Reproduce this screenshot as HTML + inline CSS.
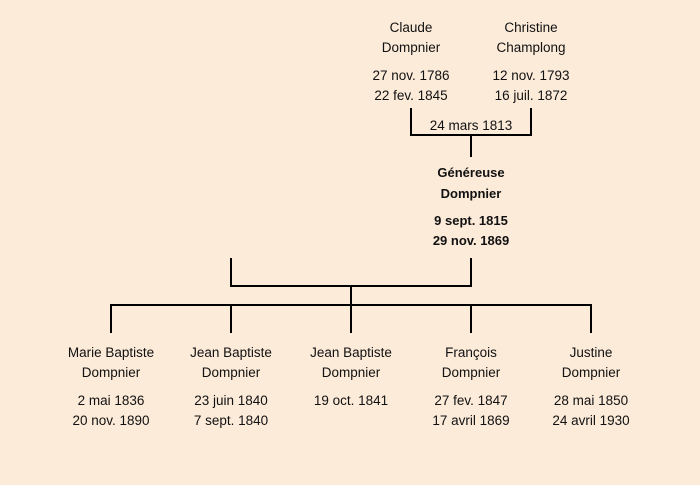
<!DOCTYPE html>
<html><head><meta charset="utf-8"><style>
html,body{margin:0;padding:0;background:#fcebd9;}
svg{display:block;}
text{font-family:"Liberation Sans",sans-serif;font-size:13.5px;fill:#111;text-anchor:middle;}
.b{font-weight:bold;font-size:13px;}
</style></head><body>
<svg width="700" height="485" viewBox="0 0 700 485">
<rect width="700" height="485" fill="#fcebd9"/>
<g stroke="#000" stroke-width="2" fill="none">
<path d="M411 108V135H531V108M471 135V157"/>
<path d="M231 258V286H471V258M351 286V305M111 333V305H591V333M231 305V333M351 305V333M471 305V333"/>
</g>
<text x="411" y="32">Claude</text><text x="411" y="52">Dompnier</text>
<text x="411" y="80">27 nov. 1786</text><text x="411" y="100">22 fev. 1845</text>
<text x="531" y="32">Christine</text><text x="531" y="52">Champlong</text>
<text x="531" y="80">12 nov. 1793</text><text x="531" y="100">16 juil. 1872</text>
<text x="471" y="130">24 mars 1813</text>
<text class="b" x="471" y="177">Généreuse</text><text class="b" x="471" y="198">Dompnier</text>
<text class="b" x="471" y="225">9 sept. 1815</text><text class="b" x="471" y="245">29 nov. 1869</text>
<text x="111" y="357">Marie Baptiste</text><text x="111" y="377">Dompnier</text>
<text x="111" y="405">2 mai 1836</text><text x="111" y="425">20 nov. 1890</text>
<text x="231" y="357">Jean Baptiste</text><text x="231" y="377">Dompnier</text>
<text x="231" y="405">23 juin 1840</text><text x="231" y="425">7 sept. 1840</text>
<text x="351" y="357">Jean Baptiste</text><text x="351" y="377">Dompnier</text>
<text x="351" y="405">19 oct. 1841</text>
<text x="471" y="357">François</text><text x="471" y="377">Dompnier</text>
<text x="471" y="405">27 fev. 1847</text><text x="471" y="425">17 avril 1869</text>
<text x="591" y="357">Justine</text><text x="591" y="377">Dompnier</text>
<text x="591" y="405">28 mai 1850</text><text x="591" y="425">24 avril 1930</text>
</svg>
</body></html>
